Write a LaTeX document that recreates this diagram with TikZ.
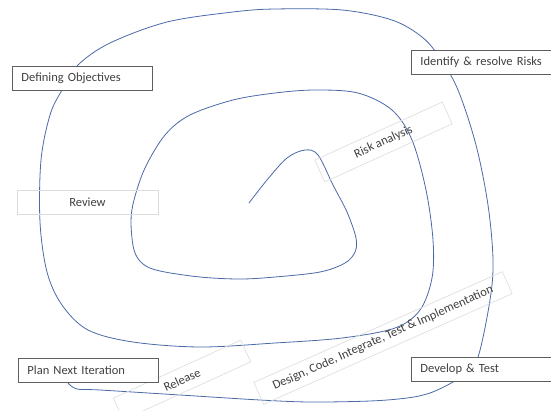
\documentclass[tikz,border=0pt]{standalone}
\usepackage{fontspec}
\setmainfont{Carlito}
\begin{document}
\begin{tikzpicture}[x=1pt,y=-1pt,
  darkbox/.style={draw=boxgray, line width=0.9pt, fill=white, text=txtgray,
    inner xsep=9pt, inner ysep=0pt, minimum height=24pt, text width=122pt,
    align=left, anchor=north west, font=\fontsize{12.5}{14}\selectfont},
  lightbox/.style={draw=lightgray2, line width=0.6pt, text=txtgray,
    inner sep=0pt, minimum height=24pt, align=center,
    font=\fontsize{12.5}{14}\selectfont},
  spiral/.style={draw=spiralblue, line width=0.8pt}]
\definecolor{boxgray}{HTML}{5F5F5F}
\definecolor{lightgray2}{HTML}{DCDCDC}
\definecolor{txtgray}{HTML}{404040}
\definecolor{spiralblue}{HTML}{4A6AA8}
\useasboundingbox (0,0) rectangle (551,410);
\fill[white] (0,0) rectangle (551,410);
% spiral
\draw[spiral] plot[smooth, tension=0.55] coordinates {
 (249,203) (267,180) (287,158) (305,150) (318,155) (333,185) (347,212) (356,238)
 (355,252) (345,263) (320,272) (275,277) (240,279) (200,277) (160,271) (143,264)
 (134,250) (131,222) (134,200) (145,168) (165,135) (190,115) (233,100) (275,93)
 (315,90) (358,93) (392,110) (412,140) (426,190) (433,240) (432,278) (420,310)
 (395,328) (342,338) (275,343) (200,347) (133,342) (88,330) (62,305) (47,272)
 (40,222) (41,160) (50,115) (62,90) (78,65) (110,43) (167,22) (233,12) (275,9)
 (342,10) (392,20) (422,37) (440,58) (458,90) (476,145) (488,205) (493,260)
 (490,300) (478,357) (465,372) (453,382) (430,393) (407,398) (370,401) (310,402)
 (260,400) (180,395) (100,390) (77,389) (68,383)};
% light boxes
\node[lightbox, minimum width=141pt] (review) at (87.5,202) {Review};
\node[lightbox, minimum width=140pt, rotate=24.5] (risk) at (383.5,142) {Risk analysis};
\node[lightbox, minimum width=140pt, rotate=24.5] (release) at (182,380) {Release};
\node[lightbox, minimum width=272pt, rotate=24] (design) at (383,338) {Design, Code, Integrate, Test \& Implementation};
% dark boxes
\node[darkbox] (defobj) at (12,66) {Defining Objectives};
\node[darkbox] (identify) at (411,50) {Identify \& resolve Risks};
\node[darkbox] (plan) at (18,358) {Plan Next Iteration};
\node[darkbox] (develop) at (411,357) {Develop \& Test};
\end{tikzpicture}
\end{document}
